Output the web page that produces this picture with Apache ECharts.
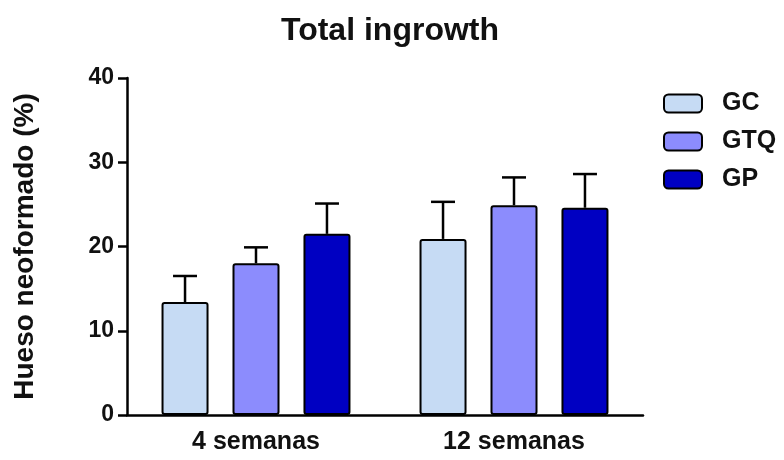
<!DOCTYPE html>
<html>
<head>
<meta charset="utf-8">
<script src="https://cdn.jsdelivr.net/npm/echarts@6/dist/echarts.min.js"></script>
<style>
  html, body { margin: 0; padding: 0; background: #fff; }
  #chart { width: 784px; height: 460px; }
</style>
</head>
<body>
<div id="chart"></div>
<script>
// Bone ingrowth by group and time point (mean + SD upper whisker)
const categories = ['4 semanas', '12 semanas'];
const groups = ['GC', 'GTQ', 'GP'];
const meanGC = [13.4, 20.9];
const meanGTQ = [18.0, 24.9];
const meanGP = [21.5, 24.6];
const errGC = [3.1, 4.4];
const errGTQ = [1.9, 3.3];
const errGP = [3.6, 4.0];
const yTicks = [0, 10, 20, 30, 40];

const colors = ['#c6dbf4', '#8c8cfd', '#0000c2'];
const means = [meanGC, meanGTQ, meanGP];
const errs = [errGC, errGTQ, errGP];

const FONT = '"Liberation Sans", Arial, sans-serif';
const BAR_W = 47;
const BAR_GAP = 0.51;

const chart = echarts.init(document.getElementById('chart'));

const barSeries = groups.map((g, i) => ({
  name: g,
  type: 'bar',
  data: means[i],
  barWidth: BAR_W,
  barGap: (BAR_GAP * 100) + '%',
  itemStyle: { color: colors[i], borderColor: '#000', borderWidth: 2, borderRadius: 2 },
  z: 2
}));

// Upper whiskers drawn on top of each bar
const errSeries = groups.map((g, i) => ({
  type: 'custom',
  name: g + '_err',
  data: categories.map((c, k) => [k, means[i][k], means[i][k] + errs[i][k]]),
  renderItem: function (params, api) {
    const step = BAR_W * (1 + BAR_GAP);
    const off = (i - 1) * step;
    const base = api.coord([api.value(0), api.value(1)]);
    const top = api.coord([api.value(0), api.value(2)]);
    const x = base[0] + off;
    const half = 12;
    const style = { stroke: '#000', lineWidth: 2.5 };
    return {
      type: 'group',
      children: [
        { type: 'line', shape: { x1: x, y1: base[1], x2: x, y2: top[1] }, style: style },
        { type: 'line', shape: { x1: x - half, y1: top[1], x2: x + half, y2: top[1] }, style: style }
      ]
    };
  },
  z: 1,
  silent: true
}));

chart.setOption({
  backgroundColor: '#fff',
  animation: false,
  title: {
    text: 'Total ingrowth',
    left: 385,
    textAlign: 'center',
    top: 10,
    textStyle: { fontFamily: FONT, fontWeight: 'bold', fontSize: 32, color: '#111' }
  },
  legend: {
    data: groups,
    orient: 'vertical',
    left: 658,
    top: 86,
    itemWidth: 38,
    itemHeight: 18,
    itemGap: 13,
    textStyle: { fontFamily: FONT, fontWeight: 'bold', fontSize: 25, color: '#111', padding: [0, 0, 0, 15] }
  },
  grid: { left: 127, right: 141, top: 78, bottom: 45 },
  xAxis: {
    type: 'category',
    data: categories,
    axisLine: { lineStyle: { color: '#000', width: 2.5 } },
    axisTick: { show: false },
    axisLabel: { fontFamily: FONT, fontWeight: 'bold', fontSize: 25, color: '#111', margin: 15 }
  },
  yAxis: {
    type: 'value',
    min: yTicks[0],
    max: yTicks[yTicks.length - 1],
    interval: 10,
    name: 'Hueso neoformado (%)',
    nameLocation: 'middle',
    nameGap: 88,
    nameTextStyle: { fontFamily: FONT, fontWeight: 'bold', fontSize: 28, color: '#111' },
    axisLine: { show: true, lineStyle: { color: '#000', width: 2.5 } },
    axisTick: { show: true, length: 9, lineStyle: { color: '#000', width: 2.5 } },
    axisLabel: { fontFamily: FONT, fontWeight: 'bold', fontSize: 23, color: '#111', margin: 13 },
    splitLine: { show: false }
  },
  series: barSeries.concat(errSeries)
});
</script>
</body>
</html>
